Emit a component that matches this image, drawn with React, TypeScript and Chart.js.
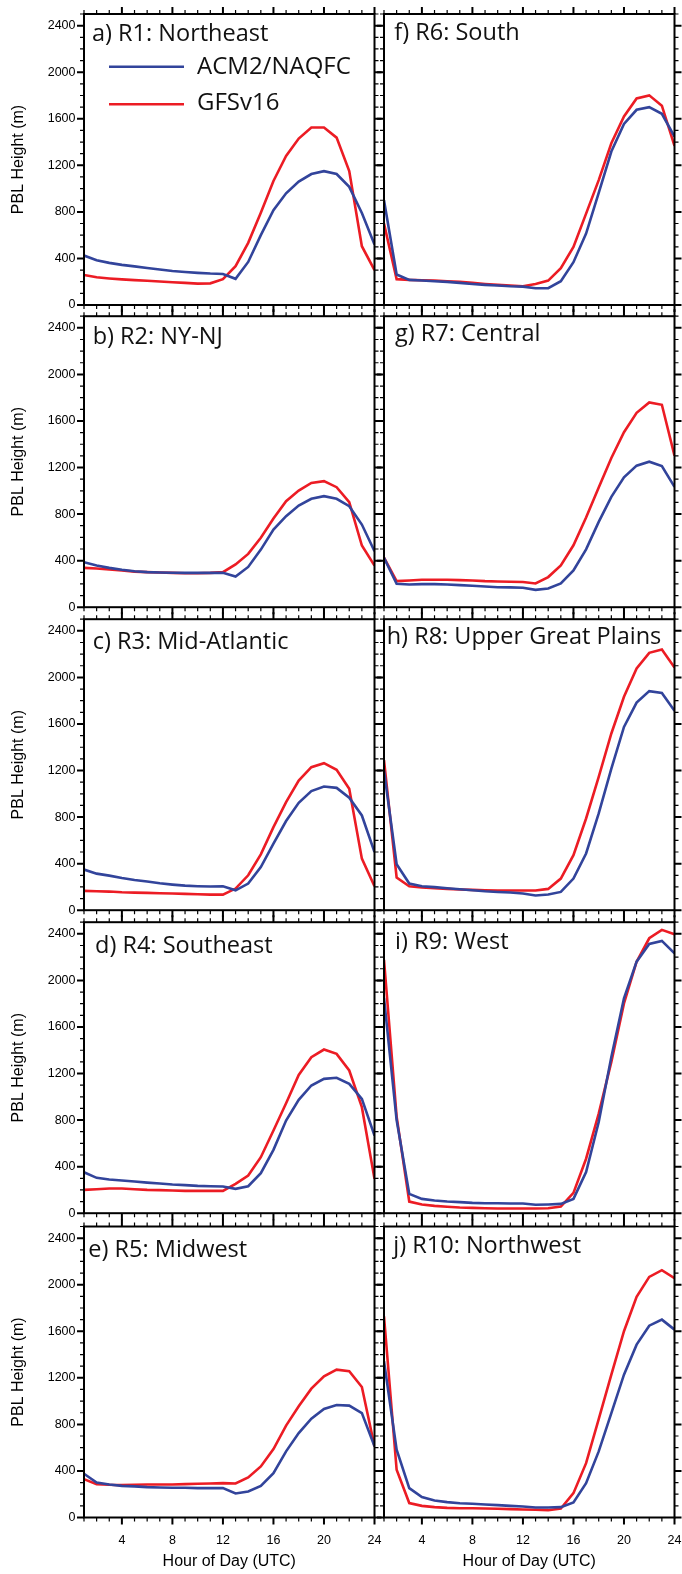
import React, { useEffect, useRef } from 'react';
import { Chart, registerables } from 'chart.js';

Chart.register(...registerables);

// ---------- data ----------
const HOURS = [1, 2, 3, 4, 5, 6, 7, 8, 9, 10, 11, 12, 13, 14, 15, 16, 17, 18, 19, 20, 21, 22, 23, 24];
const X_TICKS = [4, 8, 12, 16, 20, 24];
const Y_TICKS = [0, 400, 800, 1200, 1600, 2000, 2400];
const Y_MAX = 2500;
const Y_MINOR = 100;
const SERIES_NAMES = ['ACM2/NAQFC', 'GFSv16'];
const X_TITLE = 'Hour of Day (UTC)';
const Y_TITLE = 'PBL Height (m)';

const TITLES = [
  'a) R1: Northeast',
  'b) R2: NY-NJ',
  'c) R3: Mid-Atlantic',
  'd) R4: Southeast',
  'e) R5: Midwest',
  'f) R6: South',
  'g) R7: Central',
  'h) R8: Upper Great Plains',
  'i) R9: West',
  'j) R10: Northwest',
];

const R1_ACM2 = [425, 385, 362, 345, 332, 318, 305, 292, 283, 276, 270, 267, 225, 370, 600, 815, 960, 1060, 1125, 1150, 1125, 1015, 790, 520];
const R1_GFS = [258, 238, 228, 220, 214, 208, 202, 196, 190, 184, 186, 222, 333, 534, 792, 1065, 1280, 1430, 1525, 1525, 1438, 1151, 505, 299];

const R2_ACM2 = [387, 358, 338, 321, 309, 301, 298, 296, 295, 295, 295, 295, 263, 346, 495, 667, 782, 873, 931, 954, 931, 868, 710, 481];
const R2_GFS = [338, 332, 324, 315, 306, 301, 298, 295, 292, 292, 295, 301, 367, 458, 596, 762, 911, 1002, 1068, 1083, 1031, 902, 530, 358];

const R3_ACM2 = [349, 314, 297, 277, 260, 246, 231, 220, 211, 206, 203, 206, 171, 229, 371, 571, 766, 923, 1023, 1063, 1051, 966, 814, 500];
const R3_GFS = [166, 163, 160, 154, 151, 149, 146, 143, 140, 137, 134, 134, 186, 300, 480, 714, 929, 1114, 1229, 1263, 1206, 1043, 443, 206];

const R4_ACM2 = [352, 304, 289, 281, 272, 263, 255, 246, 241, 235, 232, 229, 209, 232, 344, 544, 796, 974, 1097, 1154, 1163, 1111, 982, 667];
const R4_GFS = [200, 206, 212, 212, 206, 200, 198, 195, 192, 192, 192, 192, 252, 324, 481, 710, 945, 1188, 1340, 1406, 1369, 1226, 911, 295];

const R5_ACM2 = [376, 301, 284, 272, 267, 261, 258, 255, 255, 252, 252, 252, 206, 224, 272, 381, 568, 725, 849, 932, 966, 961, 897, 611];
const R5_GFS = [330, 287, 281, 278, 281, 284, 284, 284, 287, 290, 292, 295, 292, 344, 439, 588, 789, 955, 1107, 1213, 1270, 1256, 1121, 611];

const R6_ACM2 = [900, 262, 216, 210, 204, 199, 190, 181, 173, 167, 161, 158, 144, 144, 204, 368, 613, 964, 1318, 1556, 1677, 1700, 1643, 1447];
const R6_GFS = [699, 222, 216, 213, 210, 204, 199, 190, 181, 173, 167, 161, 181, 210, 316, 498, 785, 1073, 1390, 1620, 1775, 1801, 1712, 1367];

const R7_ACM2 = [425, 201, 195, 198, 198, 195, 190, 184, 178, 172, 170, 167, 149, 161, 204, 316, 497, 733, 948, 1115, 1216, 1250, 1213, 1034];
const R7_GFS = [425, 224, 230, 236, 236, 236, 233, 230, 224, 221, 218, 216, 204, 259, 359, 532, 770, 1029, 1282, 1503, 1670, 1759, 1739, 1302];

const R8_ACM2 = [1200, 395, 229, 206, 198, 189, 180, 172, 163, 157, 152, 143, 126, 135, 157, 272, 487, 831, 1217, 1575, 1784, 1882, 1867, 1713];
const R8_GFS = [1290, 281, 206, 195, 189, 183, 178, 175, 172, 169, 169, 169, 169, 183, 272, 473, 788, 1145, 1518, 1833, 2076, 2211, 2239, 2085];

const R9_ACM2 = [1850, 800, 166, 123, 109, 100, 95, 89, 86, 86, 83, 83, 72, 75, 80, 123, 353, 784, 1343, 1846, 2161, 2313, 2339, 2233];
const R9_GFS = [2176, 830, 100, 75, 63, 55, 49, 46, 43, 40, 40, 40, 40, 43, 57, 175, 468, 855, 1300, 1802, 2161, 2362, 2434, 2396];

const R10_ACM2 = [1342, 582, 252, 175, 146, 132, 123, 118, 112, 106, 100, 95, 86, 86, 89, 129, 295, 568, 897, 1227, 1485, 1648, 1700, 1614];
const R10_GFS = [1729, 410, 124, 100, 89, 83, 80, 80, 77, 75, 72, 69, 66, 63, 77, 209, 467, 846, 1227, 1600, 1895, 2067, 2125, 2056];

const ACM2_SERIES = [R1_ACM2, R2_ACM2, R3_ACM2, R4_ACM2, R5_ACM2, R6_ACM2, R7_ACM2, R8_ACM2, R9_ACM2, R10_ACM2];
const GFS_SERIES = [R1_GFS, R2_GFS, R3_GFS, R4_GFS, R5_GFS, R6_GFS, R7_GFS, R8_GFS, R9_GFS, R10_GFS];

// ---------- layout & style ----------
const BLUE = '#32449b';
const RED = '#ec1c24';
const PAGE_W = 682;
const PAGE_H = 1574;
const COL_X = [
  [84, 374.5],
  [384, 674.5],
];
const ROW_Y = [14, 316.2, 619.2, 922.2, 1226.5];
const PANEL_H = 291;
// title offset (dx from plot left, dy baseline from plot top)
const TITLE_POS = [
  [8, 26.7], [8.7, 27.3], [8.7, 29.5], [11, 30.5], [4.3, 30],
  [10.3, 26], [11, 25], [2.7, 24.5], [11, 27], [9.3, 26.3],
];

const SANS = '"Liberation Sans", Arial, Helvetica, sans-serif';
const TITLE_FONT = '"Open Sans", "Noto Sans", sans-serif';

const decorPlugin = {
  id: 'panelDecor',
  afterDraw(chart: any, _args: any, opts: any) {
    const { ctx, chartArea } = chart;
    const { left, right, top, bottom } = chartArea;
    const xs = chart.scales.x;
    const ys = chart.scales.y;
    ctx.save();
    ctx.strokeStyle = '#000';
    ctx.lineCap = 'butt';
    // x ticks (top & bottom, outward)
    for (const h of HOURS) {
      const px = xs.getPixelForValue(h);
      const major = X_TICKS.includes(h);
      const len = major ? 7 : 4;
      ctx.lineWidth = major ? 2 : 1.2;
      ctx.beginPath();
      ctx.moveTo(px, bottom);
      ctx.lineTo(px, bottom + len);
      ctx.moveTo(px, top);
      ctx.lineTo(px, top - len);
      ctx.stroke();
    }
    // y ticks (left & right, outward)
    for (let v = 0; v <= Y_MAX; v += Y_MINOR) {
      const py = ys.getPixelForValue(v);
      const major = Y_TICKS.includes(v);
      const len = major ? 7 : 4;
      ctx.lineWidth = major ? 2 : 1.2;
      ctx.beginPath();
      ctx.moveTo(left, py);
      ctx.lineTo(left - len, py);
      ctx.moveTo(right, py);
      ctx.lineTo(right + len, py);
      ctx.stroke();
    }
    // frame
    ctx.lineWidth = 2;
    ctx.strokeRect(left, top, right - left, bottom - top);
    // panel title
    ctx.fillStyle = '#111';
    ctx.font = '23.5px ' + TITLE_FONT;
    ctx.textAlign = 'left';
    ctx.textBaseline = 'alphabetic';
    ctx.fillText(opts.title, left + opts.dx, top + opts.dy);
    // legend
    if (opts.legend) {
      const lineY = [52.7, 90.3];
      const textY = [60, 96];
      ctx.font = '24px ' + TITLE_FONT;
      chart.data.datasets.forEach((ds: any, i: number) => {
        ctx.strokeStyle = ds.borderColor;
        ctx.lineWidth = 2.5;
        ctx.beginPath();
        ctx.moveTo(left + 25, top + lineY[i]);
        ctx.lineTo(left + 100, top + lineY[i]);
        ctx.stroke();
        ctx.fillText(ds.label, left + 113, top + textY[i]);
      });
    }
    ctx.restore();
  },
};

function Panel({ idx }: { idx: number }) {
  const ref = useRef<HTMLCanvasElement>(null);
  const col = idx < 5 ? 0 : 1;
  const row = idx % 5;
  const [x0, x1] = COL_X[col];
  const top = ROW_Y[row];
  const bottom = top + PANEL_H;
  const isBottom = row === 4;
  const isLeft = col === 0;
  const cLeft = isLeft ? 0 : 376;
  const cRight = isLeft ? 388 : PAGE_W;
  const cTop = Math.floor(top) - 12;
  const cBottom = isBottom ? PAGE_H : Math.ceil(bottom) + 12;
  const w = cRight - cLeft;
  const h = cBottom - cTop;

  useEffect(() => {
    const canvas = ref.current;
    if (!canvas) return;
    const acm = ACM2_SERIES[idx];
    const gfs = GFS_SERIES[idx];
    const chart = new Chart(canvas, {
      type: 'line',
      data: {
        datasets: [
          {
            label: SERIES_NAMES[0],
            data: HOURS.map((hr, i) => ({ x: hr, y: acm[i] })),
            borderColor: BLUE,
            backgroundColor: BLUE,
            borderWidth: 2.6,
            pointRadius: 0,
            tension: 0,
            fill: false,
          },
          {
            label: SERIES_NAMES[1],
            data: HOURS.map((hr, i) => ({ x: hr, y: gfs[i] })),
            borderColor: RED,
            backgroundColor: RED,
            borderWidth: 2.6,
            pointRadius: 0,
            tension: 0,
            fill: false,
          },
        ],
      },
      options: {
        animation: false,
        responsive: false,
        events: [],
        layout: {
          padding: {
            left: isLeft ? 0 : x0 - cLeft,
            right: cRight - x1,
            top: top - cTop,
            bottom: isBottom ? 0 : cBottom - bottom,
          },
        },
        plugins: {
          legend: { display: false },
          tooltip: { enabled: false },
          title: { display: false },
          panelDecor: {
            title: TITLES[idx],
            dx: TITLE_POS[idx][0],
            dy: TITLE_POS[idx][1],
            legend: idx === 0,
          },
        } as any,
        scales: {
          x: {
            type: 'linear',
            min: HOURS[0],
            max: HOURS[HOURS.length - 1],
            display: isBottom,
            afterBuildTicks: (s: any) => {
              s.ticks = X_TICKS.map((v) => ({ value: v }));
            },
            afterFit: (s: any) => {
              s.height = isBottom ? cBottom - bottom : 0;
            },
            grid: { display: false, drawTicks: true, tickLength: 15.5 },
            border: { display: false },
            ticks: {
              autoSkip: false,
              maxRotation: 0,
              padding: 0,
              color: '#000',
              font: { family: SANS, size: 12.5 },
              callback: (v: any) => String(v),
            },
            title: {
              display: true,
              text: X_TITLE,
              color: '#000',
              font: { family: SANS, size: 16 },
              padding: { top: 0, bottom: 3 },
            },
          },
          y: {
            type: 'linear',
            min: 0,
            max: Y_MAX,
            display: isLeft,
            afterBuildTicks: (s: any) => {
              s.ticks = Y_TICKS.map((v) => ({ value: v }));
            },
            afterFit: (s: any) => {
              s.width = isLeft ? x0 : 0;
            },
            grid: { display: false, drawTicks: true, tickLength: 8.5 },
            border: { display: false },
            ticks: {
              padding: 0,
              color: '#000',
              font: { family: SANS, size: 12.5 },
              callback: (v: any) => String(v),
            },
            title: {
              display: true,
              text: Y_TITLE,
              color: '#000',
              font: { family: SANS, size: 16 },
              padding: { top: 9, bottom: 0 },
            },
          },
        },
      } as any,
      plugins: [decorPlugin as any],
    });
    return () => chart.destroy();
  }, [idx]);

  return (
    <canvas
      ref={ref}
      width={w}
      height={h}
      style={{ position: 'absolute', left: cLeft, top: cTop, width: w, height: h }}
    />
  );
}

export default function App() {
  return (
    <div
      style={{
        position: 'absolute',
        left: 0,
        top: 0,
        width: PAGE_W,
        height: PAGE_H,
        background: '#fff',
        overflow: 'hidden',
      }}
    >
      {TITLES.map((_, i) => (
        <Panel key={i} idx={i} />
      ))}
    </div>
  );
}
